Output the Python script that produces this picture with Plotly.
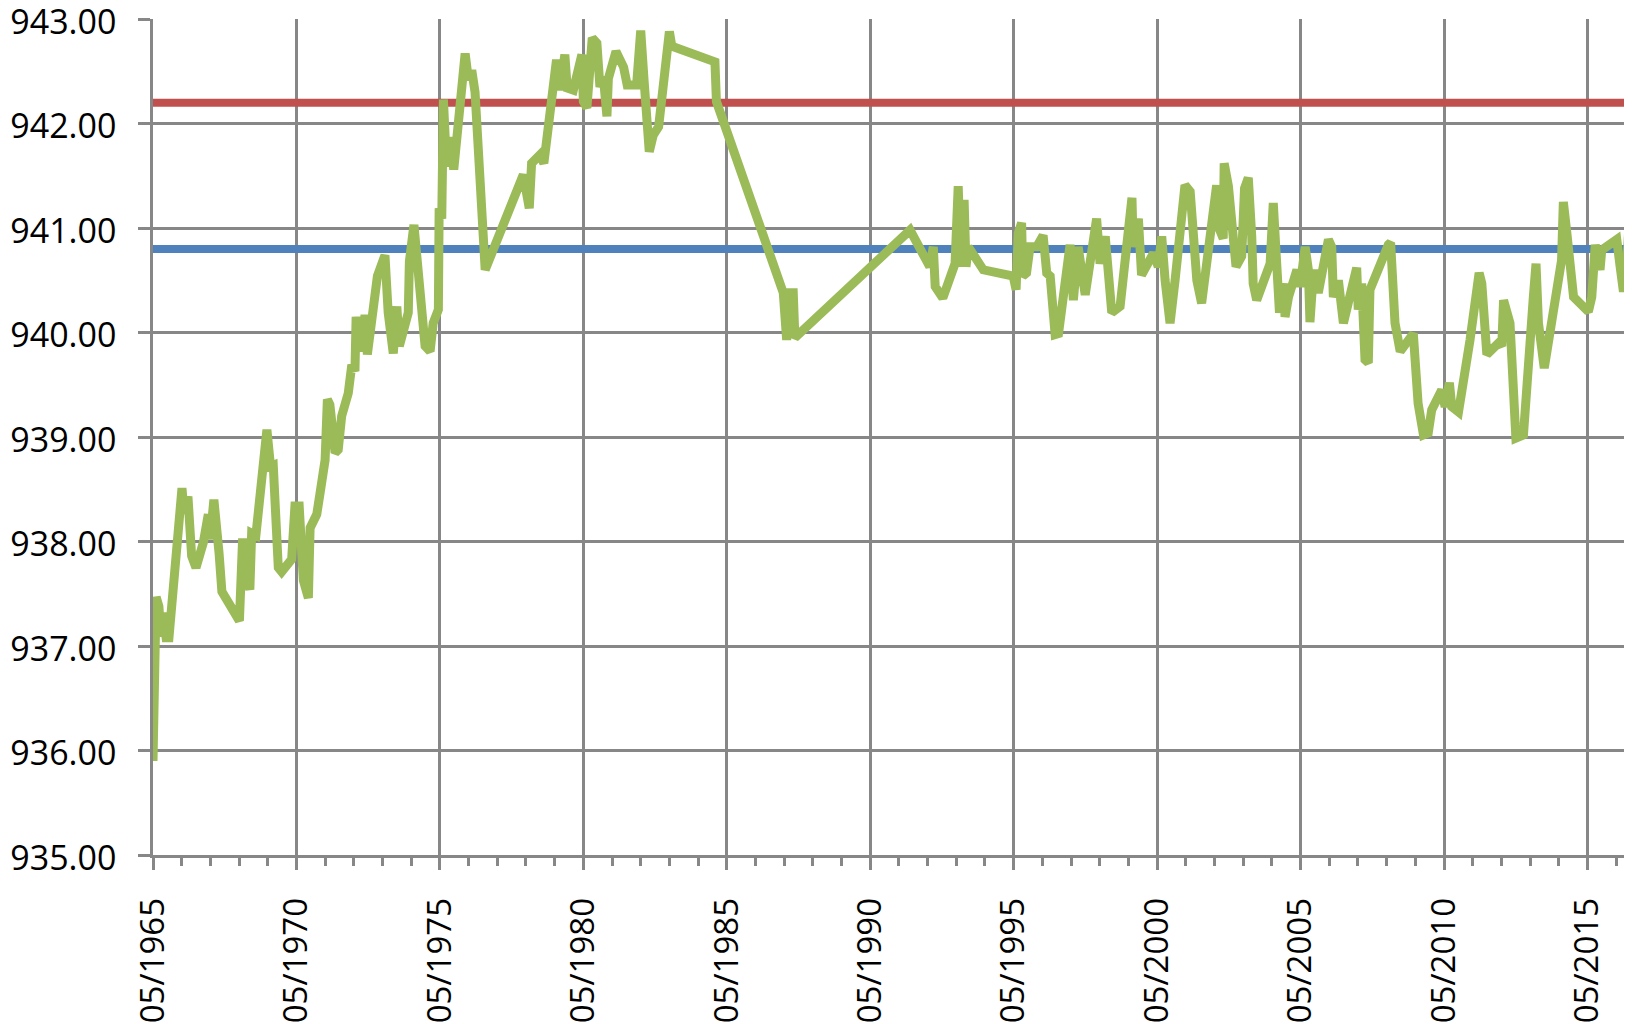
import plotly.graph_objects as go

# Water level series
dates = [
    "1965-05-01", "1965-05-20", "1965-06-10", "1965-07-15", "1965-08-10", "1965-09-05", "1965-10-15", "1965-11-20",
    "1966-04-05", "1966-05-05", "1966-06-01", "1966-07-20", "1966-09-05", "1966-10-30",
    "1967-02-01", "1967-04-05", "1967-04-28", "1967-06-15", "1967-08-20", "1967-09-25",
    "1968-05-05", "1968-06-15", "1968-07-25", "1968-09-15", "1968-10-08", "1968-12-01",
    "1969-04-20", "1969-06-05", "1969-07-10", "1969-09-12", "1969-10-25",
    "1970-03-01", "1970-04-12", "1970-06-05", "1970-07-28", "1970-09-30", "1970-10-22",
    "1971-01-15", "1971-02-25", "1971-04-10", "1971-05-01", "1971-05-30", "1971-07-01",
    "1971-09-05", "1971-10-15", "1971-11-28",
    "1972-02-20", "1972-04-05", "1972-05-15", "1972-05-30", "1972-06-28", "1972-08-10",
    "1972-09-20", "1972-10-20",
    "1973-02-25", "1973-03-28", "1973-06-01", "1973-07-12", "1973-09-15", "1973-10-30", "1973-12-01",
    "1974-03-25", "1974-04-08", "1974-06-05", "1974-08-01", "1974-10-05", "1974-10-25", "1974-12-28",
    "1975-02-05", "1975-04-12", "1975-04-22", "1975-05-25", "1975-06-15", "1975-07-25",
    "1975-09-05", "1975-10-25", "1975-11-20",
    "1976-02-05", "1976-03-18", "1976-04-28", "1976-06-10", "1976-07-22", "1976-09-01", "1976-11-28",
    "1978-03-28", "1978-06-12", "1978-07-12", "1978-08-25", "1978-10-25", "1978-12-15",
    "1979-05-25", "1979-07-08", "1979-09-08", "1979-10-08", "1979-12-25",
    "1980-04-12", "1980-05-01", "1980-06-15", "1980-08-22", "1980-10-20", "1980-11-28",
    "1981-01-10", "1981-02-25", "1981-03-15", "1981-06-20", "1981-09-25", "1981-11-10",
    "1982-03-10", "1982-05-01", "1982-06-12", "1982-08-18", "1982-10-08", "1982-12-15",
    "1983-05-01", "1983-06-01",
    "1984-12-01", "1984-12-20",
    "1987-04-20", "1987-06-02", "1987-07-12", "1987-08-25", "1987-09-15",
    "1991-09-20",
    "1992-05-28", "1992-07-12", "1992-08-05", "1992-11-10",
    "1993-04-15", "1993-05-25", "1993-06-25", "1993-08-08", "1993-09-01", "1993-10-01",
    "1994-04-10",
    "1995-04-25", "1995-06-01", "1995-06-28", "1995-08-10", "1995-08-25", "1995-10-12", "1995-11-25",
    "1996-02-18", "1996-05-10", "1996-06-25", "1996-08-08", "1996-10-10", "1996-11-22",
    "1997-04-18", "1997-05-30", "1997-07-30", "1997-10-28",
    "1998-03-22", "1998-05-05", "1998-07-10", "1998-10-01",
    "1999-01-15", "1999-06-15", "1999-07-01", "1999-09-05", "1999-10-15",
    "2000-03-15", "2000-05-15", "2000-06-28", "2000-08-10", "2000-10-12", "2000-12-15",
    "2001-04-20", "2001-06-25", "2001-09-18", "2001-11-18",
    "2002-04-15", "2002-05-28", "2002-07-08", "2002-08-20", "2002-09-01", "2002-10-25",
    "2003-01-30", "2003-04-12", "2003-05-18", "2003-07-05", "2003-08-18", "2003-09-05",
    "2003-10-20", "2003-12-01",
    "2004-04-08", "2004-05-18", "2004-07-01", "2004-08-05", "2004-09-25", "2004-10-15", "2004-11-28",
    "2005-03-15", "2005-04-25", "2005-06-28", "2005-08-08", "2005-08-28", "2005-10-01",
    "2005-10-30", "2005-12-12",
    "2006-04-20", "2006-06-01", "2006-06-22", "2006-08-25", "2006-10-28",
    "2007-04-15", "2007-05-05", "2007-06-18", "2007-07-30", "2007-09-10", "2007-10-01",
    "2008-05-22", "2008-06-20", "2008-08-15", "2008-10-20",
    "2009-04-05", "2009-06-05", "2009-08-12", "2009-10-12", "2009-11-25",
    "2010-04-01", "2010-05-15", "2010-07-08", "2010-08-08", "2010-11-01",
    "2011-03-28", "2011-07-22", "2011-08-25", "2011-10-28",
    "2012-03-25", "2012-05-05", "2012-05-28", "2012-07-08", "2012-08-18", "2012-11-01",
    "2013-02-05", "2013-06-10", "2013-07-15", "2013-08-15", "2013-10-28",
    "2014-06-05", "2014-06-28", "2014-08-12", "2014-09-22", "2014-11-05",
    "2015-05-12", "2015-06-25", "2015-08-08", "2015-10-08", "2015-10-30",
    "2016-01-01", "2016-03-08", "2016-05-08", "2016-06-20", "2016-08-01", "2016-09-12",
    "2016-10-05", "2016-11-15", "2016-12-20",
]
levels = [
    935.90, 936.42, 937.47, 937.38, 937.09, 937.32, 937.08, 937.08,
    938.43, 938.51, 938.27, 938.43, 937.86, 937.75,
    937.99, 938.26, 938.02, 938.40, 937.89, 937.52,
    937.24, 938.03, 937.70, 937.54, 938.08, 938.06,
    939.07, 938.72, 938.73, 937.75, 937.71,
    937.83, 938.34, 938.34, 937.63, 937.46, 938.13,
    938.26, 938.46, 938.65, 938.78, 939.36, 939.31,
    938.85, 938.88, 939.20,
    939.42, 939.69, 939.63, 940.15, 939.93, 939.82,
    940.17, 939.79,
    940.54, 940.60, 940.74, 940.19, 939.80, 940.25, 939.87,
    940.19, 940.68, 941.03, 940.57, 940.19, 939.87, 939.82,
    940.09, 940.22, 941.19, 941.09, 942.23, 941.59,
    941.87, 941.56, 941.78,
    942.35, 942.67, 942.42, 942.51, 942.30, 941.79, 940.60,
    941.51, 941.19, 941.62, 941.65, 941.70, 941.62,
    942.61, 942.32, 942.66, 942.34, 942.32,
    942.66, 942.21, 942.15, 942.82, 942.77, 942.35,
    942.45, 942.07, 942.43, 942.69, 942.54, 942.37,
    942.37, 942.89, 942.42, 941.73, 941.89, 941.97,
    942.88, 942.74,
    942.59, 942.21,
    940.38, 939.93, 940.38, 940.38, 939.95,
    940.98,
    940.63, 940.82, 940.44, 940.33,
    940.66, 941.40, 940.63, 941.27, 940.63, 940.82,
    940.60,
    940.54, 940.41, 940.95, 941.05, 940.54, 940.57, 940.82,
    940.82, 940.93, 940.57, 940.54, 939.98, 939.99,
    940.84, 940.31, 940.82, 940.36,
    941.09, 940.66, 940.92, 940.19,
    940.25, 941.29, 940.82, 941.09, 940.55,
    940.76, 940.63, 940.92, 940.50, 940.09, 940.50,
    941.41, 941.35, 940.50, 940.28,
    941.06, 941.41, 940.98, 940.90, 941.62, 941.40,
    940.63, 940.73, 941.38, 941.48, 940.92, 940.47,
    940.31, 940.41,
    940.66, 941.24, 940.54, 940.19, 940.47, 940.15, 940.34,
    940.60, 940.44, 940.82, 940.60, 940.10, 940.47,
    940.60, 940.38,
    940.89, 940.82, 940.34, 940.50, 940.09,
    940.62, 940.22, 940.47, 939.74, 939.71, 940.41,
    940.84, 940.86, 940.09, 939.82,
    939.99, 939.32, 939.02, 939.04, 939.26,
    939.45, 939.29, 939.52, 939.29, 939.24,
    939.93, 940.57, 940.47, 939.79,
    939.90, 939.87, 940.31, 940.15, 940.09, 938.99,
    939.02, 940.33, 940.66, 940.09, 939.66,
    940.69, 941.25, 940.95, 940.60, 940.34,
    940.20, 940.34, 940.84, 940.60, 940.79,
    940.82, 940.87, 940.89, 940.63, 940.39, 940.66,
    940.95, 940.92, 940.85,
]

# Reference levels (horizontal series)
upper_level = 942.20
lower_level = 940.80
level_span = ["1965-05-01", "2017-12-01"]

# Axis ticks
tick_dates = ["1965-05-01", "1970-05-01", "1975-05-01", "1980-05-01", "1985-05-01", "1990-05-01",
              "1995-05-01", "2000-05-01", "2005-05-01", "2010-05-01", "2015-05-01"]
tick_labels = ["05/1965", "05/1970", "05/1975", "05/1980", "05/1985", "05/1990",
               "05/1995", "05/2000", "05/2005", "05/2010", "05/2015"]
y_ticks = [935, 936, 937, 938, 939, 940, 941, 942, 943]

GRID = "#878787"
FONT = "Open Sans"

fig = go.Figure()
fig.add_trace(go.Scatter(x=level_span, y=[upper_level, upper_level], mode="lines",
                         line=dict(color="#C0504D", width=8), hoverinfo="skip"))
fig.add_trace(go.Scatter(x=level_span, y=[lower_level, lower_level], mode="lines",
                         line=dict(color="#4F81BD", width=8), hoverinfo="skip"))
fig.add_trace(go.Scatter(x=dates, y=levels, mode="lines",
                         line=dict(color="#9BBB59", width=9)))

# The page body has an 8px default margin, so the figure is sized to fill the rest of the window.
fig.update_layout(
    width=1624, height=1016,
    margin=dict(l=145, r=0, t=11, b=169, autoexpand=False),
    paper_bgcolor="white", plot_bgcolor="white",
    showlegend=False,
    font=dict(family=FONT, size=34, color="black"),
)
fig.update_xaxes(
    type="date",
    automargin=False,
    range=["1965-05-01", "2016-11-18"],
    tickvals=tick_dates, ticktext=tick_labels,
    tickangle=-90,
    ticks="outside", ticklen=12, tickwidth=2.5, tickcolor=GRID,
    showgrid=True, gridcolor=GRID, gridwidth=2.5,
    showline=True, linecolor=GRID, linewidth=2.5,
    zeroline=False,
    minor=dict(tick0="1965-05-01", dtick="M12", ticks="outside", ticklen=8,
               tickwidth=2.5, tickcolor=GRID, showgrid=False),
    ticklabelstandoff=15,
    ticklabeloverflow="allow",
    tickfont=dict(family=FONT, size=33, color="black"),
)
fig.update_yaxes(
    automargin=False,
    range=[935, 943.0005],
    tickvals=y_ticks, tickformat=".2f",
    ticks="outside", ticklen=12, tickwidth=2.5, tickcolor=GRID,
    showgrid=True, gridcolor=GRID, gridwidth=2.5,
    showline=True, linecolor=GRID, linewidth=2.5,
    zeroline=False,
    ticklabelstandoff=15,
    ticklabelshift=3,
    ticklabeloverflow="allow",
    tickfont=dict(family=FONT, size=34, color="black"),
)

fig.write_html("out.html")
